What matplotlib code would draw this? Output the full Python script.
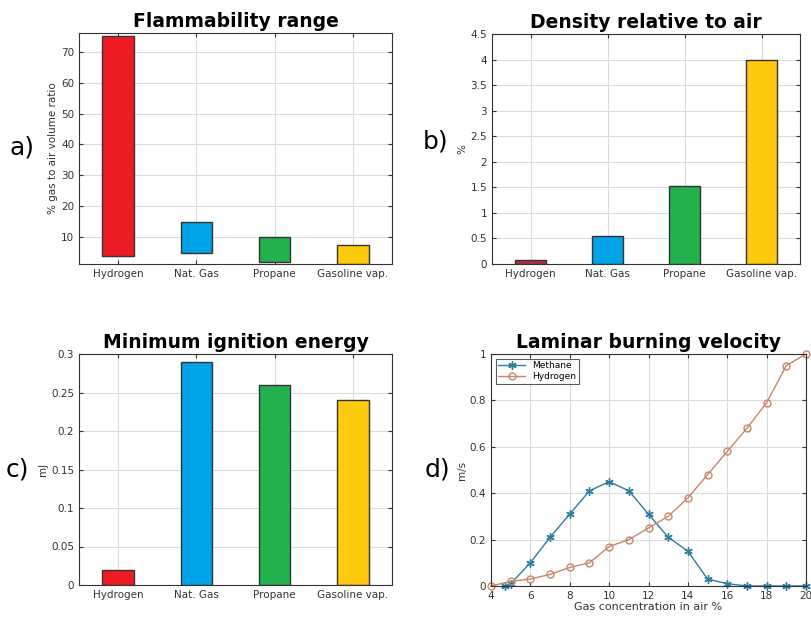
import matplotlib
matplotlib.use("Agg")
import matplotlib.pyplot as plt
import numpy as np

# ---- data ----
gases = ["Hydrogen", "Nat. Gas", "Propane", "Gasoline vap."]
flam_low = [4.0, 5.0, 2.1, 1.4]
flam_high = [75.0, 15.0, 10.0, 7.6]
density = [0.07, 0.55, 1.52, 4.0]
ignition = [0.02, 0.29, 0.26, 0.24]

methane_x = [4.7, 5, 6, 7, 8, 9, 10, 11, 12, 13, 14, 15, 16, 17, 18, 19, 20]
methane_v = [0.0, 0.01, 0.10, 0.21, 0.31, 0.41, 0.45, 0.41, 0.31, 0.21, 0.15, 0.03, 0.01, 0.0, 0.0, 0.0, 0.0]
hydrogen_x = [4, 5, 6, 7, 8, 9, 10, 11, 12, 13, 14, 15, 16, 17, 18, 19, 20]
hydrogen_v = [0.0, 0.02, 0.03, 0.05, 0.08, 0.10, 0.17, 0.20, 0.25, 0.30, 0.38, 0.48, 0.58, 0.68, 0.79, 0.95, 1.0]

bar_colors = ["#ED1C24", "#00A2E8", "#22B14C", "#FFC90E"]
bar_colors_b = ["#B5303A", "#00A2E8", "#22B14C", "#FFC90E"]

W, H = 811, 619
fig = plt.figure(figsize=(W / 100, H / 100), dpi=100)

def add_ax(l, t, r, b):
    return fig.add_axes([l / W, 1 - b / H, (r - l) / W, (b - t) / H])

def style(ax):
    ax.grid(True, color="#dcdcdc", linewidth=0.8)
    ax.set_axisbelow(True)
    ax.tick_params(direction="in", labelsize=7.5, colors="#333333", length=3,
                   top=True, right=True, labeltop=False, labelright=False)
    for s in ax.spines.values():
        s.set_color("#333333")
        s.set_linewidth(0.8)

xpos = np.arange(len(gases))

# a) flammability range
axa = add_ax(79, 33, 392, 264)
axa.bar(xpos, np.array(flam_high) - np.array(flam_low), bottom=flam_low, width=0.4,
        color=bar_colors, edgecolor="#333333", linewidth=1.0)
axa.set_ylim(1.4, 76)
axa.set_yticks([10, 20, 30, 40, 50, 60, 70])
axa.set_xlim(-0.5, 3.5)
axa.set_xticks(xpos)
axa.set_xticklabels(gases)
axa.set_ylabel("% gas to air volume ratio", fontsize=7.5, color="#333333", labelpad=2)
axa.set_title("Flammability range", fontsize=13.5, fontweight="bold", pad=4)
style(axa)

# b) density
axb = add_ax(492, 34, 800, 264)
axb.bar(xpos, density, width=0.4, color=bar_colors_b, edgecolor="#333333", linewidth=1.0)
axb.set_ylim(0, 4.5)
axb.set_yticks(np.arange(0, 4.51, 0.5))
axb.set_yticklabels(["0", "0.5", "1", "1.5", "2", "2.5", "3", "3.5", "4", "4.5"])
axb.set_xlim(-0.5, 3.5)
axb.set_xticks(xpos)
axb.set_xticklabels(gases)
axb.set_ylabel("%", fontsize=7.5, color="#333333", labelpad=2)
axb.set_title("Density relative to air", fontsize=13.5, fontweight="bold", pad=4)
style(axb)

# c) ignition energy
axc = add_ax(79, 354, 392, 585)
axc.bar(xpos, ignition, width=0.4, color=bar_colors, edgecolor="#333333", linewidth=1.0)
axc.set_ylim(0, 0.3)
axc.set_yticks([0, 0.05, 0.1, 0.15, 0.2, 0.25, 0.3])
axc.set_yticklabels(["0", "0.05", "0.1", "0.15", "0.2", "0.25", "0.3"])
axc.set_xlim(-0.5, 3.5)
axc.set_xticks(xpos)
axc.set_xticklabels(gases)
axc.set_ylabel("mJ", fontsize=7.5, color="#333333", labelpad=2)
axc.set_title("Minimum ignition energy", fontsize=13.5, fontweight="bold", pad=4)
style(axc)

# d) laminar burning velocity
axd = add_ax(491, 354, 806, 586)
axd.plot(methane_x, methane_v, color="#2C7DA0", marker=(6, 2, 0), markersize=6,
         markeredgewidth=1.0, linewidth=1.0, label="Methane")
axd.plot(hydrogen_x, hydrogen_v, color="#C8876A", marker="o", markersize=5,
         markerfacecolor="none", markeredgewidth=1.0, linewidth=1.0, label="Hydrogen")
axd.set_xlim(4, 20)
axd.set_ylim(0, 1)
axd.set_xticks([4, 6, 8, 10, 12, 14, 16, 18, 20])
axd.set_yticks([0, 0.2, 0.4, 0.6, 0.8, 1])
axd.set_yticklabels(["0", "0.2", "0.4", "0.6", "0.8", "1"])
axd.set_xlabel("Gas concentration in air %", fontsize=8, color="#333333", labelpad=1)
axd.set_ylabel("m/s", fontsize=7.5, color="#333333", labelpad=2)
axd.set_title("Laminar burning velocity", fontsize=13.5, fontweight="bold", pad=4)
style(axd)
for ln in axd.lines:
    ln.set_clip_on(False)
leg = axd.legend(loc="upper left", fontsize=6.5, frameon=True, fancybox=False,
                 edgecolor="#333333", borderpad=0.3, handlelength=3.0,
                 labelspacing=0.2, borderaxespad=0.5)
leg.get_frame().set_linewidth(0.8)

# panel letters
for txt, x, y in [("a)", 22, 148), ("b)", 436, 141), ("c)", 17, 470), ("d)", 437, 470)]:
    fig.text(x / W, 1 - y / H, txt, fontsize=18, ha="center", va="center")

fig.savefig("out.png", dpi=100)
